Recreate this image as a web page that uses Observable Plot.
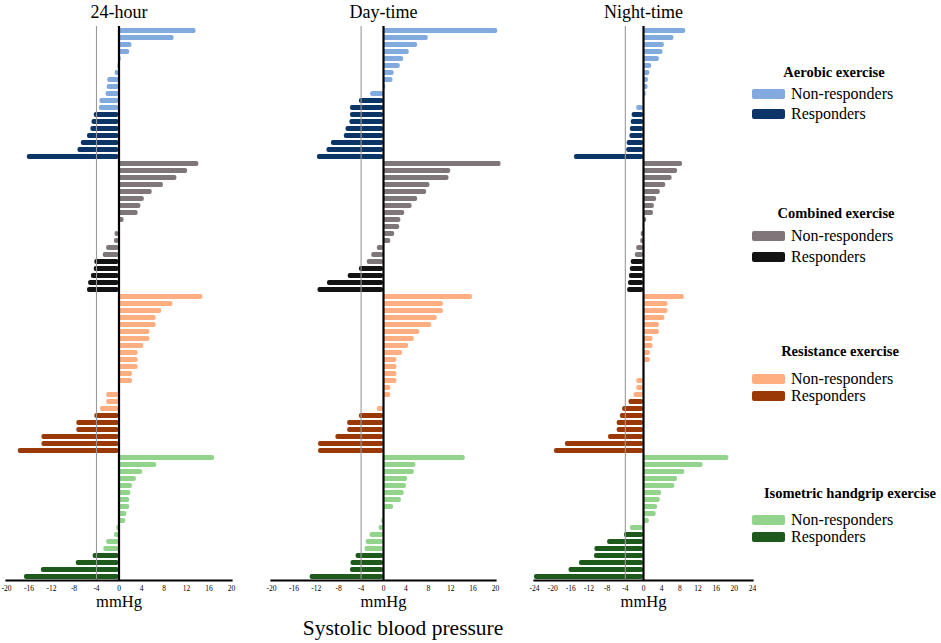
<!DOCTYPE html>
<html><head><meta charset="utf-8">
<script src="https://cdn.jsdelivr.net/npm/d3@7"></script>
<script src="https://cdn.jsdelivr.net/npm/@observablehq/plot@0.6"></script>
<style>
body{margin:0;background:#fff;}
#wrap{position:relative;width:941px;height:643px;font-family:"Liberation Serif","Times New Roman",serif;color:#000;}
.panel{position:absolute;top:0;}
.lg-title{position:absolute;font-weight:bold;font-size:14.5px;white-space:nowrap;transform:translate(-50%,-50%);}
.lg-item{position:absolute;font-size:16px;white-space:nowrap;display:flex;align-items:center;transform:translateY(-50%);}
.lg-sw{width:33px;height:10px;border-radius:2px;margin-right:6px;}
#xt{position:absolute;left:403px;top:628px;transform:translate(-50%,-50%);font-size:21.5px;white-space:nowrap;}
</style></head><body><div id="wrap"><div id="xt">Systolic blood pressure</div></div>
<script>
const groups = ["Aerobic exercise", "Combined exercise", "Resistance exercise", "Isometric handgrip exercise"];
const statusLabels = ["Non-responders", "Responders"];
const panelTitles = ["24-hour", "Day-time", "Night-time"];

// 24-hour change (mmHg), sorted as drawn
const h24Aerobic = [13.7, 9.8, 2.3, 1.9, 0.4, -0.2, -0.7, -2.0, -2.1, -2.3, -3.4, -3.5, -4.4, -4.8, -5.0, -5.6, -6.7, -7.3, -16.3];
const h24Combined = [14.2, 12.2, 10.3, 7.9, 5.9, 4.5, 3.9, 3.4, 0.9, 0.1, -0.7, -0.8, -2.2, -2.8, -4.3, -4.4, -4.9, -5.4, -5.6];
const h24Resistance = [14.9, 9.6, 7.6, 6.6, 6.6, 5.5, 5.5, 4.4, 3.4, 3.4, 3.4, 2.4, 2.4, 0, -2.2, -2.2, -3.3, -4.3, -7.5, -7.5, -13.7, -13.7, -17.9];
const h24Isometric = [17.0, 6.7, 4.2, 3.1, 2.4, 2.1, 1.9, 1.9, 1.4, 1.2, -0.4, -0.8, -2.2, -2.7, -4.6, -7.6, -13.8, -16.8];
const h24Responders = [7, 5, 6, 4];

// Day-time
const dayAerobic = [20.4, 8.0, 6.1, 4.6, 3.6, 3.0, 1.9, 1.7, 0.4, -2.3, -4.3, -5.9, -5.9, -6.0, -6.7, -7.0, -9.3, -10.1, -11.8];
const dayCombined = [21.0, 12.0, 11.7, 8.3, 7.7, 6.1, 5.1, 3.8, 3.1, 2.9, 2.0, 1.3, -1.1, -2.1, -2.9, -4.3, -6.3, -10.0, -11.7];
const dayResistance = [15.9, 10.7, 10.7, 9.6, 8.6, 6.5, 5.5, 4.5, 3.4, 2.4, 2.4, 2.4, 2.4, 1.3, 1.3, 0, -1.1, -4.3, -6.4, -6.4, -8.5, -11.6, -11.6];
const dayIsometric = [14.6, 5.8, 5.5, 4.3, 4.1, 3.7, 3.2, 1.8, 0, -0.3, -0.8, -2.4, -3.1, -3.3, -4.9, -5.8, -5.9, -13.1];
const dayResponders = [9, 4, 6, 4];

// Night-time
const nightAerobic = [9.3, 6.7, 4.6, 4.3, 3.5, 1.8, 1.4, 1.1, 1.0, 0.6, 0.2, -1.5, -2.5, -2.7, -2.9, -3.0, -3.6, -3.7, -15.2];
const nightCombined = [8.6, 7.5, 6.3, 4.9, 3.7, 2.9, 2.4, 2.2, 0.7, 0.2, -0.5, -0.6, -1.5, -1.8, -2.7, -2.9, -3.1, -3.3, -3.5];
const nightResistance = [9.0, 5.4, 5.4, 4.7, 3.5, 3.5, 2.1, 2.1, 1.5, 1.5, 0, 0, -1.5, -1.5, -2.1, -3.2, -4.6, -5.1, -5.8, -5.8, -7.7, -17.2, -19.6];
const nightIsometric = [18.8, 13.1, 9.1, 7.5, 6.9, 4.0, 3.7, 3.1, 2.8, 1.3, -2.9, -4.2, -7.9, -10.7, -10.8, -14.1, -16.4, -24.0];
const nightResponders = [7, 5, 8, 7];

const ticks20 = [-20, -16, -12, -8, -4, 0, 4, 8, 12, 16, 20];
const ticks24 = [-24, -20, -16, -12, -8, -4, 0, 4, 8, 12, 16, 20, 24];
const referenceLine = -4;

const palette = {
  "Aerobic exercise": ["#81AADF", "#0C3567"],
  "Combined exercise": ["#7E7678", "#131313"],
  "Resistance exercise": ["#FFAE81", "#9A3906"],
  "Isometric handgrip exercise": ["#93D48D", "#1D5A1B"]
};

function buildRows(seriesList, responders) {
  const rows = [];
  seriesList.forEach((vals, gi) => {
    vals.forEach((v, i) => {
      rows.push({id: gi + "-" + i, group: groups[gi], value: v, resp: i >= vals.length - responders[gi] ? 1 : 0});
    });
  });
  return rows;
}

const panelData = [
  {rows: buildRows([h24Aerobic, h24Combined, h24Resistance, h24Isometric], h24Responders), domain: [-20, 20], ticks: ticks20, left: 0, ml: 6, width: 241},
  {rows: buildRows([dayAerobic, dayCombined, dayResistance, dayIsometric], dayResponders), domain: [-20, 20], ticks: ticks20, left: 260, ml: 11, width: 245},
  {rows: buildRows([nightAerobic, nightCombined, nightResistance, nightIsometric], nightResponders), domain: [-24, 24], ticks: ticks24, left: 524, ml: 10, width: 238}
];

const wrap = document.getElementById("wrap");

panelData.forEach((p, pi) => {
  const chart = Plot.plot({
    width: p.width,
    height: 618,
    marginLeft: p.ml,
    marginRight: 10,
    marginTop: 26,
    marginBottom: 38,
    style: {fontFamily: "'Liberation Serif','Times New Roman',serif", background: "transparent", color: "#000"},
    x: {domain: p.domain},
    y: {domain: p.rows.map(d => d.id), axis: null, paddingInner: 0.3, paddingOuter: 0.1},
    marks: [
      Plot.barX(p.rows, {x: "value", y: "id", fill: d => palette[d.group][d.resp], rx: 2}),
      Plot.ruleX([referenceLine], {stroke: "#9a9a9a", strokeWidth: 1.1}),
      Plot.ruleX([0], {stroke: "#000", strokeWidth: 2.2}),
      Plot.frame({anchor: "bottom", stroke: "#000", strokeWidth: 2.2}),
      Plot.axisX({ticks: p.ticks, tickSize: 0, tickPadding: 5, tickFormat: d => String(d), fontSize: 7.5, label: null}),
      Plot.text([panelTitles[pi]], {text: d => d, frameAnchor: "top", lineAnchor: "middle", dy: -14, fontSize: 18}),
      Plot.text(["mmHg"], {text: d => d, frameAnchor: "bottom", dy: 26, fontSize: 16.5})
    ]
  });
  chart.classList.add("panel");
  chart.style.left = p.left + "px";
  wrap.appendChild(chart);
});

// legend
const legendPos = [
  {title: 72, center: 834, items: [94, 114]},
  {title: 213, center: 836, items: [236, 257]},
  {title: 351, center: 840, items: [379, 396]},
  {title: 493, center: 850, items: [520, 537]}
];
groups.forEach((g, gi) => {
  const t = document.createElement("div");
  t.className = "lg-title";
  t.textContent = g;
  t.style.left = legendPos[gi].center + "px";
  t.style.top = legendPos[gi].title + "px";
  wrap.appendChild(t);
  statusLabels.forEach((s, si) => {
    const it = document.createElement("div");
    it.className = "lg-item";
    it.style.left = "752px";
    it.style.top = legendPos[gi].items[si] + "px";
    const sw = document.createElement("span");
    sw.className = "lg-sw";
    sw.style.background = palette[g][si];
    it.appendChild(sw);
    it.appendChild(document.createTextNode(s));
    wrap.appendChild(it);
  });
});
</script></body></html>
